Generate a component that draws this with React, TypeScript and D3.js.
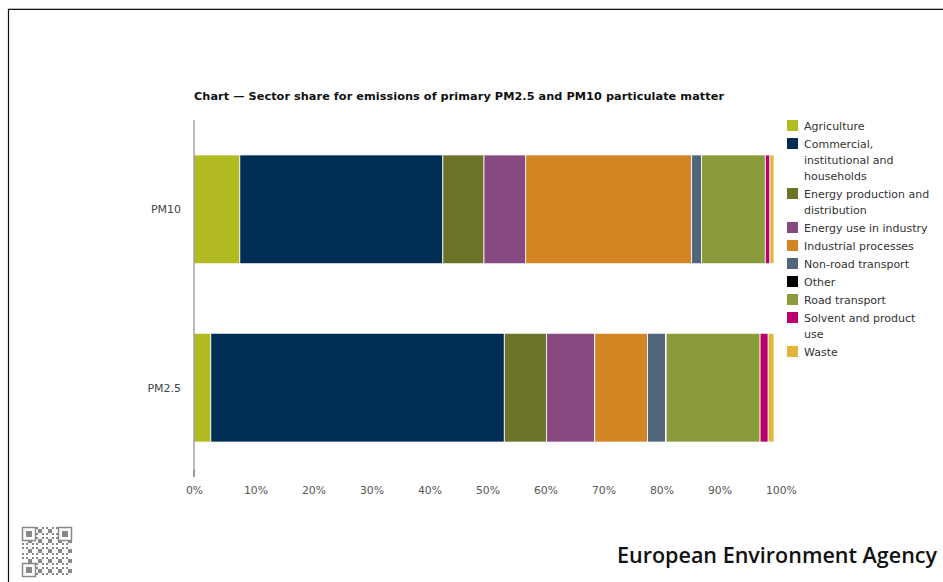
import React from "react";
import * as d3 from "d3";

const categories = ["PM10", "PM2.5"];
const sectors = [
  "Agriculture",
  "Commercial, institutional and households",
  "Energy production and distribution",
  "Energy use in industry",
  "Industrial processes",
  "Non-road transport",
  "Other",
  "Road transport",
  "Solvent and product use",
  "Waste",
];
const legendLines = [
  ["Agriculture"],
  ["Commercial,", "institutional and", "households"],
  ["Energy production and", "distribution"],
  ["Energy use in industry"],
  ["Industrial processes"],
  ["Non-road transport"],
  ["Other"],
  ["Road transport"],
  ["Solvent and product", "use"],
  ["Waste"],
];
const colors = ["#b2bb22", "#002d54", "#6b7328", "#864a80", "#d38524", "#50667d", "#000000", "#8a9b3b", "#b9006e", "#e3b53a"];
const pm10 = [7.9, 35.0, 7.1, 7.2, 28.6, 1.7, 0.0, 11.0, 0.8, 0.7];
const pm25 = [2.9, 50.6, 7.3, 8.3, 9.1, 3.1, 0.1, 16.2, 1.4, 1.0];
const seriesValues = [pm10, pm25];
const xTicks = [0, 10, 20, 30, 40, 50, 60, 70, 80, 90, 100];

const font = "'DejaVu Sans', Verdana, sans-serif";

function QR() {
  // decorative QR-like mark
  const n = 25;
  const cell = 2;
  const cells: React.ReactNode[] = [];
  for (let r = 0; r < n; r++) {
    for (let c = 0; c < n; c++) {
      const v = ((r * 7 + c * 13 + r * c * 3) % 5) < 2;
      const finder =
        (r < 7 && c < 7) || (r < 7 && c >= n - 7) || (r >= n - 7 && c < 7);
      if (finder) continue;
      if (v) cells.push(<rect key={r + "-" + c} x={c * cell} y={r * cell} width={cell} height={cell} fill="#888" />);
    }
  }
  const fp = (x: number, y: number, k: string) => (
    <g key={k} transform={`translate(${x},${y})`}>
      <rect x={0.5} y={0.5} width={13} height={13} fill="none" stroke="#888" strokeWidth={1.5} />
      <rect x={4} y={4} width={6} height={6} fill="#888" />
    </g>
  );
  return (
    <g transform="translate(22,527)">
      {cells}
      {fp(0, 0, "a")}
      {fp((n - 7) * cell, 0, "b")}
      {fp(0, (n - 7) * cell, "c")}
    </g>
  );
}

export default function App() {
  const W = 943, H = 582;
  const x = d3.scaleLinear().domain([0, 100]).range([194, 774]);
  const y = d3.scaleBand().domain(categories).range([120, 477]).paddingInner(0.39).paddingOuter(0.196);
  const stackData = categories.map((cat, i) => {
    let acc = 0;
    return seriesValues[i].map((v, j) => {
      const s = { cat, sector: sectors[j], x0: acc, x1: acc + v, color: colors[j] };
      acc += v;
      return s;
    });
  });

  let ly = 120;
  const legendItems = legendLines.map((lines, i) => {
    const top = ly;
    ly += lines.length * 16 + 2;
    return (
      <g key={i} transform={`translate(787,${top})`}>
        <rect x={0} y={0} width={11} height={11} fill={colors[i]} />
        {lines.map((t, k) => (
          <text key={k} x={17} y={10 + k * 16} fontSize={11} fontFamily={font} fill="#333">{t}</text>
        ))}
      </g>
    );
  });

  return (
    <svg width={W} height={H} style={{ position: "absolute", left: 0, top: 0, background: "#fff" }}>
      <rect x={0} y={0} width={W} height={H} fill="#fff" />
      <line x1={8} y1={8.5} x2={W} y2={8.5} stroke="#bbb" strokeWidth={1} />
      <line x1={8.5} y1={9.5} x2={W} y2={9.5} stroke="#111" strokeWidth={1.2} />
      <line x1={8.5} y1={9} x2={8.5} y2={H} stroke="#111" strokeWidth={1.2} />
      <text x={194} y={100} fontSize={11.3} fontWeight="bold" fontFamily={font} fill="#111" textLength={530} lengthAdjust="spacing">
        Chart — Sector share for emissions of primary PM2.5 and PM10 particulate matter
      </text>
      {stackData.map((row, i) => (
        <g key={i}>
          {row.filter(s => s.x1 > s.x0).map((s, j) => (
            <rect key={j} x={x(s.x0)} y={y(s.cat)!} width={x(s.x1) - x(s.x0)} height={y.bandwidth()} fill={s.color} stroke="#fff" strokeWidth={0.8} />
          ))}
        </g>
      ))}
      <line x1={194} y1={120} x2={194} y2={477} stroke="#777" strokeWidth={1} />
      <line x1={194} y1={470} x2={194} y2={477} stroke="#777" strokeWidth={1} />
      {categories.map(c => (
        <text key={c} x={181} y={y(c)! + y.bandwidth() / 2 + 4} textAnchor="end" fontSize={11} fontFamily={font} fill="#444">{c}</text>
      ))}
      {xTicks.map(t => (
        <text key={t} x={x(t) - 8} y={494} fontSize={10.8} fontFamily={font} fill="#555">{t + "%"}</text>
      ))}
      {legendItems}
      <QR />
      <text x={617} y={563} fontSize={22} fontFamily="'Open Sans', Lato, sans-serif" fontWeight={600} fill="#111" textLength={320} lengthAdjust="spacingAndGlyphs">European Environment Agency</text>
    </svg>
  );
}
